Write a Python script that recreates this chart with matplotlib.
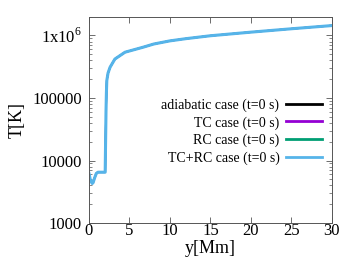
import matplotlib
matplotlib.use('Agg')
import matplotlib.pyplot as plt
from matplotlib.ticker import FixedLocator, LogLocator, NullFormatter

plt.rcParams['font.family'] = ['Liberation Serif', 'DejaVu Serif']
plt.rcParams['mathtext.fontset'] = 'custom'
plt.rcParams['mathtext.rm'] = 'Liberation Serif'

# height along the loop [Mm] and temperature [K] (initial state, identical for all cases)
y_mm = [0, 0.15, 0.3, 0.4, 0.5, 0.7, 0.9, 1.1, 1.6, 2.0, 2.05, 2.1, 2.15, 2.2,
        2.35, 2.6, 3.2, 4.45, 6.7, 8.0, 10, 12, 15, 20, 25, 30]
temp = [6200, 5000, 4500, 4300, 4400, 5300, 6200, 6500, 6500, 6500, 20000, 60000,
        120000, 190000, 250000, 310000, 420000, 540000, 650000, 730000, 820000,
        890000, 990000, 1130000, 1280000, 1440000]

labels = ['adiabatic case (t=0 s)', 'TC case (t=0 s)', 'RC case (t=0 s)',
          'TC+RC case (t=0 s)']
colors = ['#000000', '#9400d3', '#009e73', '#56b4e9']

fig = plt.figure(figsize=(3.54, 2.73), dpi=100)
ax = fig.add_axes([0.2514, 0.183, 0.686, 0.756])

# all cases share the same initial profile; the last one is drawn on top
for i, (lab, c) in enumerate(zip(labels, colors)):
    ax.plot(y_mm, temp, color=c, lw=2.2 if i == 3 else 1.2, label=lab)

ax.set_yscale('log')
ax.set_xlim(0, 30)
ax.set_ylim(1000, 2e6)
ax.set_xticks([0, 5, 10, 15, 20, 25, 30])
ax.yaxis.set_major_locator(FixedLocator([1e3, 1e4, 1e5, 1e6]))
ax.set_yticklabels(['1000', '10000', '100000', r'1x10$^{6}$'])
ax.yaxis.set_minor_locator(LogLocator(base=10, subs=range(2, 10)))
ax.yaxis.set_minor_formatter(NullFormatter())

ax.tick_params(which='both', direction='in', top=True, right=True,
               color='#555555', labelsize=12)
ax.tick_params(which='major', length=4, width=0.6)
ax.tick_params(which='minor', length=2, width=0.5)
ax.tick_params(axis='x', pad=0)
ax.tick_params(axis='y', pad=5)
for s in ax.spines.values():
    s.set_color('#555555')
    s.set_linewidth(0.7)

ax.set_xlabel('y[Mm]', fontsize=13, labelpad=1)
ax.set_ylabel('T[K]', fontsize=13, labelpad=5)

leg = ax.legend(loc='center right', bbox_to_anchor=(0.99, 0.443), frameon=False,
                fontsize=10, markerfirst=False, handlelength=2.6,
                handletextpad=0.5, labelspacing=0.3, borderpad=0)
for h in leg.get_lines():
    h.set_linewidth(2)
for t in leg.get_texts():
    t.set_ha('right')
leg._legend_box.align = 'right'

fig.savefig('out.png', dpi=100)
